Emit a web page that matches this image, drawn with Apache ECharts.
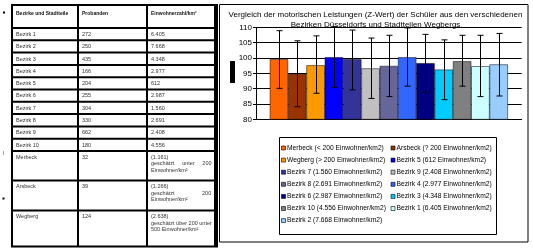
<!DOCTYPE html>
<html><head><meta charset="utf-8">
<script src="https://cdn.jsdelivr.net/npm/echarts@6/dist/echarts.min.js"></script>
<style>html,body{margin:0;padding:0;background:#fff}#c{width:533px;height:248px}</style>
</head><body><div id="c"></div>
<script>
// ---- chart data ----
const seriesNames = [
  "Merbeck (< 200 Einwohner/km2)", "Arsbeck (? 200 Einwohner/km2)",
  "Wegberg (> 200 Einwohner/km2)", "Bezirk 5 (612 Einwohner/km2)",
  "Bezirk 7 (1.560 Einwohner/km2)", "Bezirk 9 (2.408 Einwohner/km2)",
  "Bezirk 8 (2.691 Einwohner/km2)", "Bezirk 4 (2.977 Einwohner/km2)",
  "Bezirk 6 (2.987 Einwohner/km2)", "Bezirk 3 (4.348 Einwohner/km2)",
  "Bezirk 10 (4.556 Einwohner/km2)", "Bezirk 1 (6.405 Einwohner/km2)",
  "Bezirk 2 (7.668 Einwohner/km2)"
];
const seriesColors = ["#FF6600","#993300","#FF9900","#0000FF","#333399","#C0C0C0",
  "#666699","#3366FF","#000080","#00CCFF","#808080","#CCFFFF","#99CCFF"];
const zValues = [99.6, 94.8, 97.6, 100.2, 99.6, 96.6, 97.4, 100.2, 98.3, 96.2, 98.9, 97.3, 97.9];
const errLow  = [90.1, 84.1, 88.5, 90.4, 89.6, 86.8, 87.4, 90.8, 88.8, 86.4, 90.8, 87.4, 87.6];
const errHigh = [108.9, 105.6, 107.2, 110.2, 109.1, 106.5, 107.4, 109.8, 107.7, 105.9, 107.4, 107.4, 108.0];
const yMin = 80, yMax = 110, yStep = 5;
const chartTitle = "Vergleich der motorischen Leistungen (Z-Wert) der Schüler aus den verschiedenen\nBezirken Düsseldorfs und Stadtteilen Wegbergs";

// ---- table data ----
const tableHeader = ["Bezirke und Stadtteile", "Probanden", "Einwohnerzahl/km²"];
const tableDistricts = ["Bezirk 1","Bezirk 2","Bezirk 3","Bezirk 4","Bezirk 5","Bezirk 6",
  "Bezirk 7","Bezirk 8","Bezirk 9","Bezirk 10","Merbeck","Arsbeck","Wegberg"];
const tableProbanden = ["272","250","435","166","204","255","304","330","662","180","32","39","124"];
const tableDensity = ["6.405","7.668","4.348","2.977","612","2.987","1.560","2.691","2.408","4.556",
  "(1.161)\ngeschätzt     unter     200\nEinwohner/km²",
  "(1.266)\ngeschätzt                  200\nEinwohner/km²",
  "(2.638)\ngeschätzt über 200 unter\n500 Einwohner/km²"];

// ---- table layout ----
const colX = [13, 79, 148], colW = [64, 67, 66];
const rowH = [21, 10.3,10.3,10.3,10.3,10.3,10.3,10.3,10.3,10.3,10.3, 27.5, 28, 34];
const rowGap = 2, tableTop = 6;
const graphics = [];
graphics.push({type:'rect', shape:{x:11, y:4, width:207, height:243.5}, style:{fill:'#000'}, z:0});
let yy = tableTop;
const rows = [tableHeader].concat(tableDistricts.map((d,i)=>[d, tableProbanden[i], tableDensity[i]]));
rows.forEach((row, r) => {
  const h = rowH[r];
  row.forEach((txt, c) => {
    graphics.push({type:'rect', shape:{x:colX[c], y:yy, width:colW[c], height:h}, style:{fill:'#fff'}, z:1});
    graphics.push({type:'text', x:colX[c]+3, y:yy + (r===0 ? 4 : 2.2), z:2,
      style:{text:txt, fill: r===0 ? '#111' : '#333', font: (r===0 ? 'bold 5px' : '5.5px') + ' "Liberation Sans", Arial',
        lineHeight: 6.5, verticalAlign:'top', align:'left'}});
  });
  yy += h + rowGap;
});
// chart frame
graphics.push({type:'rect', shape:{x:219.5, y:4.5, width:308.5, height:237.5}, style:{fill:'none', stroke:'#000', lineWidth:1}, z:0});
// legend (two columns, drawn from the series arrays)
graphics.push({type:'rect', shape:{x:279.5, y:137.5, width:217, height:97}, style:{fill:'#fff', stroke:'#000', lineWidth:1}, z:3});
seriesNames.forEach((n, i) => {
  const col = i % 2, row = Math.floor(i / 2);
  const ix = 281.5 + col * 109.5, iy = 148 + row * 12.1;
  graphics.push({type:'rect', shape:{x:ix, y:iy-2, width:4, height:4},
    style:{fill:seriesColors[i], stroke:'#000', lineWidth:0.6}, z:4});
  graphics.push({type:'text', x:ix+5.5, y:iy, z:4,
    style:{text:n, fill:'#000', font:'6.7px "Liberation Sans", Arial', verticalAlign:'middle', align:'left'}});
});
// blotted y-axis title
graphics.push({type:'rect', shape:{x:230, y:61, width:5, height:22}, style:{fill:'#000'}, z:2});
// stray marks at left edge
graphics.push({type:'rect', shape:{x:3, y:11.5, width:2, height:2}, style:{fill:'#000'}, z:2});
graphics.push({type:'rect', shape:{x:2.5, y:197.5, width:2, height:2}, style:{fill:'#000'}, z:2});
graphics.push({type:'rect', shape:{x:3, y:151, width:1, height:4}, style:{fill:'#aaa'}, z:2});

const gapRatio = 0.104;
const nS = seriesNames.length;
const series = seriesNames.map((n, i) => ({
  type:'bar', name:n, data:[zValues[i]], barGap:'0%', barCategoryGap:(gapRatio*100)+'%',
  itemStyle:{color:seriesColors[i], borderColor:'#000', borderWidth:0.5}, z:2
}));
series.push({
  type:'custom', name:'err', z:5, silent:true,
  data: errLow.map((lo,i)=>[0, lo, errHigh[i], i]),
  encode:{x:0, y:[1,2]},
  renderItem(params, api){
    const i = api.value(3);
    const top = api.coord([0, api.value(2)]);
    const bot = api.coord([0, api.value(1)]);
    const band = api.size([1,0])[0];
    const groupW = band*(1-gapRatio), bw = groupW/nS;
    const x = Math.round(top[0] - groupW/2 + bw*(i+0.5)) + 0.5;
    const cap = 3;
    const st = {stroke:'#000', lineWidth:1};
    return {type:'group', children:[
      {type:'line', shape:{x1:x, y1:top[1], x2:x, y2:bot[1]}, style:st},
      {type:'line', shape:{x1:x-cap, y1:top[1], x2:x+cap, y2:top[1]}, style:st},
      {type:'line', shape:{x1:x-cap, y1:bot[1], x2:x+cap, y2:bot[1]}, style:st}
    ]};
  }
});

const chart = echarts.init(document.getElementById('c'), null, {renderer:'canvas'});
chart.setOption({
  animation:false,
  backgroundColor:'#fff',
  textStyle:{fontFamily:'"Liberation Sans", Arial, sans-serif'},
  title:{text:chartTitle, left:375.5, textAlign:'center', top:10, padding:0,
    textStyle:{fontSize:8, fontWeight:'normal', color:'#000', lineHeight:10}},
  grid:{left:256, right:11.3, top:27.3, bottom:128.7, outerBoundsMode:'none', containLabel:false},
  xAxis:{type:'category', data:[''], axisLine:{lineStyle:{color:'#000', width:1}},
    axisTick:{show:false}, axisLabel:{show:false}, splitLine:{show:false}},
  yAxis:{type:'value', min:yMin, max:yMax, interval:yStep,
    axisLine:{show:true, lineStyle:{color:'#000', width:1}},
    axisTick:{show:true, inside:false, length:3, lineStyle:{color:'#000'}},
    axisLabel:{color:'#000', fontSize:8, margin:4},
    splitLine:{show:true, lineStyle:{color:'#000', width:1}}},
  graphic:{elements:graphics},
  series
});
</script></body></html>
